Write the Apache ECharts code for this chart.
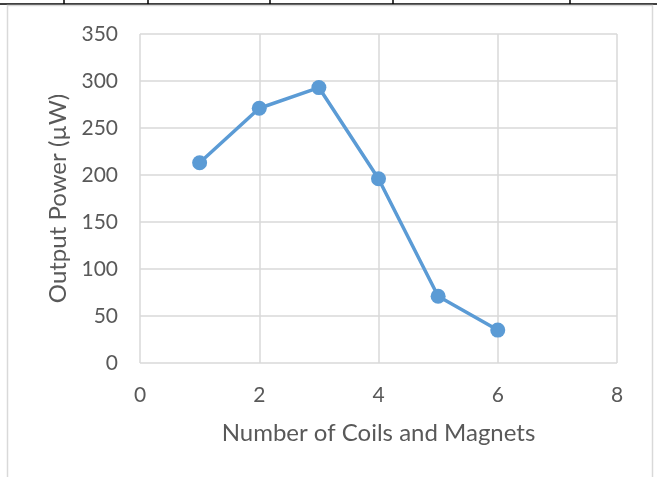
<!DOCTYPE html>
<html>
<head>
<meta charset="utf-8">
<script src="https://cdn.jsdelivr.net/npm/echarts@6/dist/echarts.min.js"></script>
<style>
  html, body { margin: 0; padding: 0; background: #ffffff; }
  #chart { width: 657px; height: 477px; }
</style>
</head>
<body>
<div id="chart"></div>
<script>
// Number of coil/magnet pairs vs. measured output power
const coilCounts = [1, 2, 3, 4, 5, 6];
const outputPower = [213, 271, 293, 196, 71, 35];

const xAxisTitle = 'Number of Coils and Magnets';
const yAxisTitle = 'Output Power (µW)';

const FONT = 'Lato, "Open Sans", sans-serif';
const TEXT = '#595959';
const GRID = '#d9d9d9';
const LINE = '#5b9bd5';

const points = coilCounts.map((c, i) => [c, outputPower[i]]);

// Table rule above the chart, with its column separators
const tableCols = [64, 148, 270, 393, 570];
const graphics = [
  { type: 'line', shape: { x1: 0, y1: 4, x2: 657, y2: 4 }, style: { stroke: '#000', lineWidth: 1.5 } },
  { type: 'rect', shape: { x: 7.5, y: 5.5, width: 645, height: 480 }, style: { fill: 'none', stroke: GRID, lineWidth: 1.5 } }
];
tableCols.forEach(x => graphics.push({
  type: 'line', shape: { x1: x, y1: 0, x2: x, y2: 4 }, style: { stroke: '#000', lineWidth: 1.5 }
}));

const chart = echarts.init(document.getElementById('chart'), null, { renderer: 'canvas' });
chart.setOption({
  animation: false,
  backgroundColor: '#ffffff',
  graphic: graphics,
  grid: { left: 140, right: 40, top: 34, bottom: 114, containLabel: false },
  xAxis: {
    type: 'value', min: 0, max: 8, interval: 2,
    name: xAxisTitle, nameLocation: 'middle', nameGap: 58,
    nameTextStyle: { fontFamily: FONT, fontSize: 24, color: TEXT },
    axisLine: { show: false }, axisTick: { show: false },
    axisLabel: { fontFamily: FONT, fontSize: 21, color: TEXT, margin: 22 },
    splitLine: { show: true, lineStyle: { color: GRID, width: 1.5 } }
  },
  yAxis: {
    type: 'value', min: 0, max: 350, interval: 50,
    name: yAxisTitle, nameLocation: 'middle', nameGap: 70,
    nameTextStyle: { fontFamily: FONT, fontSize: 24, color: TEXT },
    axisLine: { show: false }, axisTick: { show: false },
    axisLabel: { fontFamily: FONT, fontSize: 21, color: TEXT, margin: 22 },
    splitLine: { show: true, lineStyle: { color: GRID, width: 1.5 } }
  },
  series: [{
    type: 'line',
    data: points,
    symbol: 'circle', symbolSize: 15,
    lineStyle: { color: LINE, width: 3.5, join: 'round' },
    itemStyle: { color: LINE }
  }]
});
</script>
</body>
</html>
